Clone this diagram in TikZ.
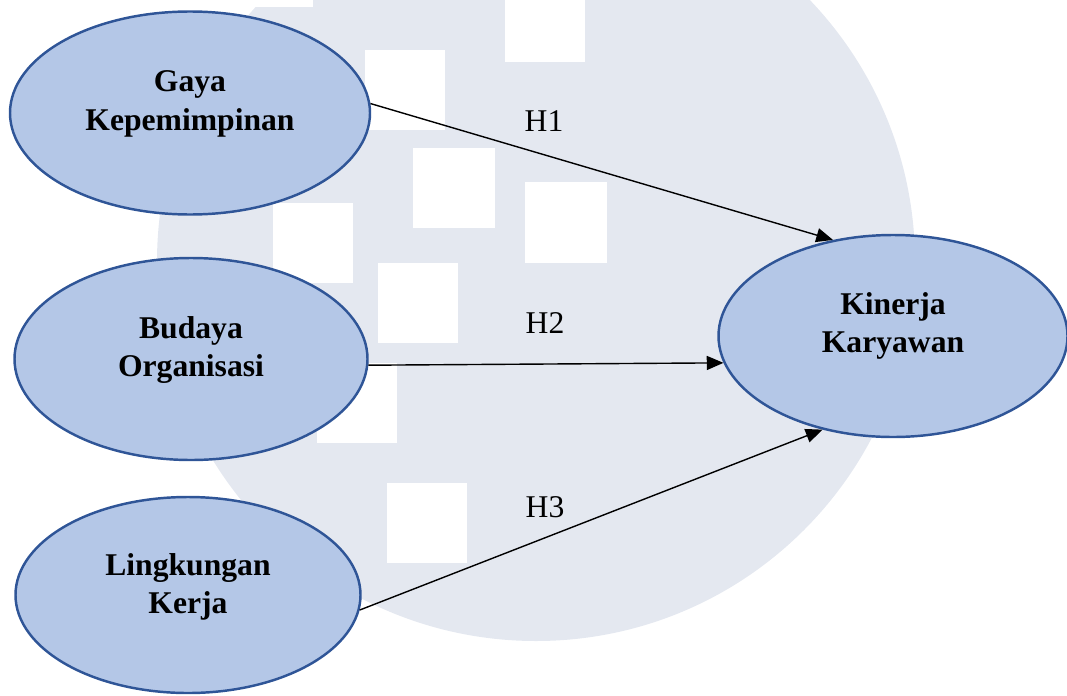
\documentclass[tikz,border=0pt]{standalone}
\usepackage{fontspec}
\setmainfont{Liberation Serif}
\usetikzlibrary{shapes.geometric,arrows.meta}

\definecolor{varfill}{HTML}{B4C7E7}
\definecolor{varline}{HTML}{2F5597}
\definecolor{markgray}{HTML}{E4E8F0}

\tikzset{
    variabel/.style={ellipse, draw=varline, fill=varfill, line width=1.4pt, inner sep=0pt},
    vartext/.style={align=center, font=\fontsize{18}{22}\selectfont\bfseries},
    hipotesis/.style={font=\fontsize{18}{21.6}\selectfont},
    panah/.style={line width=0.8pt, -{Triangle[length=9.5pt,width=8pt]}}
}

\begin{document}
\begin{tikzpicture}
    \useasboundingbox (0,0) rectangle (21.34,13.90);

    % watermark di belakang
    \begin{scope}
        \clip (0,0) rectangle (21.34,13.90);
        \fill[markgray] (10.72,8.66) circle (7.58);
        \fill[white] (4.66,15.40) rectangle (6.26,13.76);
        \fill[white] (7.30,12.90) rectangle (8.90,11.30);
        \fill[white] (10.10,14.20) rectangle (11.70,12.66);
        \fill[white] (8.26,10.94) rectangle (9.90,9.34);
        \fill[white] (10.50,10.26) rectangle (12.14,8.64);
        \fill[white] (5.46,9.84) rectangle (7.06,8.24);
        \fill[white] (7.56,8.64) rectangle (9.16,7.04);
        \fill[white] (6.34,6.64) rectangle (7.94,5.04);
        \fill[white] (7.74,4.24) rectangle (9.34,2.64);
    \end{scope}

    % variabel independen
    \node[variabel, minimum width=7.20cm, minimum height=4.06cm] (gaya) at (3.80,11.64) {};
    \node[vartext] (gayatxt) at (3.80,11.82) {Gaya\\Kepemimpinan};

    \node[variabel, minimum width=7.06cm, minimum height=4.04cm] (budaya) at (3.82,6.72) {};
    \node[vartext] (budayatxt) at (3.82,6.90) {Budaya\\Organisasi};

    \node[variabel, minimum width=6.90cm, minimum height=3.92cm] (lingkungan) at (3.76,2.00) {};
    \node[vartext] (lingkungantxt) at (3.76,2.16) {Lingkungan\\Kerja};

    % variabel dependen
    \node[variabel, minimum width=6.98cm, minimum height=4.04cm] (kinerja) at (17.86,7.18) {};
    \node[vartext] (kinerjatxt) at (17.86,7.38) {Kinerja\\Karyawan};

    % hipotesis
    \draw[panah] (gaya.3.5) -- (kinerja.122);
    \draw[panah] (budaya.-2) -- (kinerja.189);
    \draw[panah] (lingkungan.-5.3) -- (kinerja.233);

    \node[hipotesis] (h1) at (10.88,11.48) {H1};
    \node[hipotesis] (h2) at (10.90,7.44) {H2};
    \node[hipotesis] (h3) at (10.90,3.76) {H3};
\end{tikzpicture}
\end{document}
